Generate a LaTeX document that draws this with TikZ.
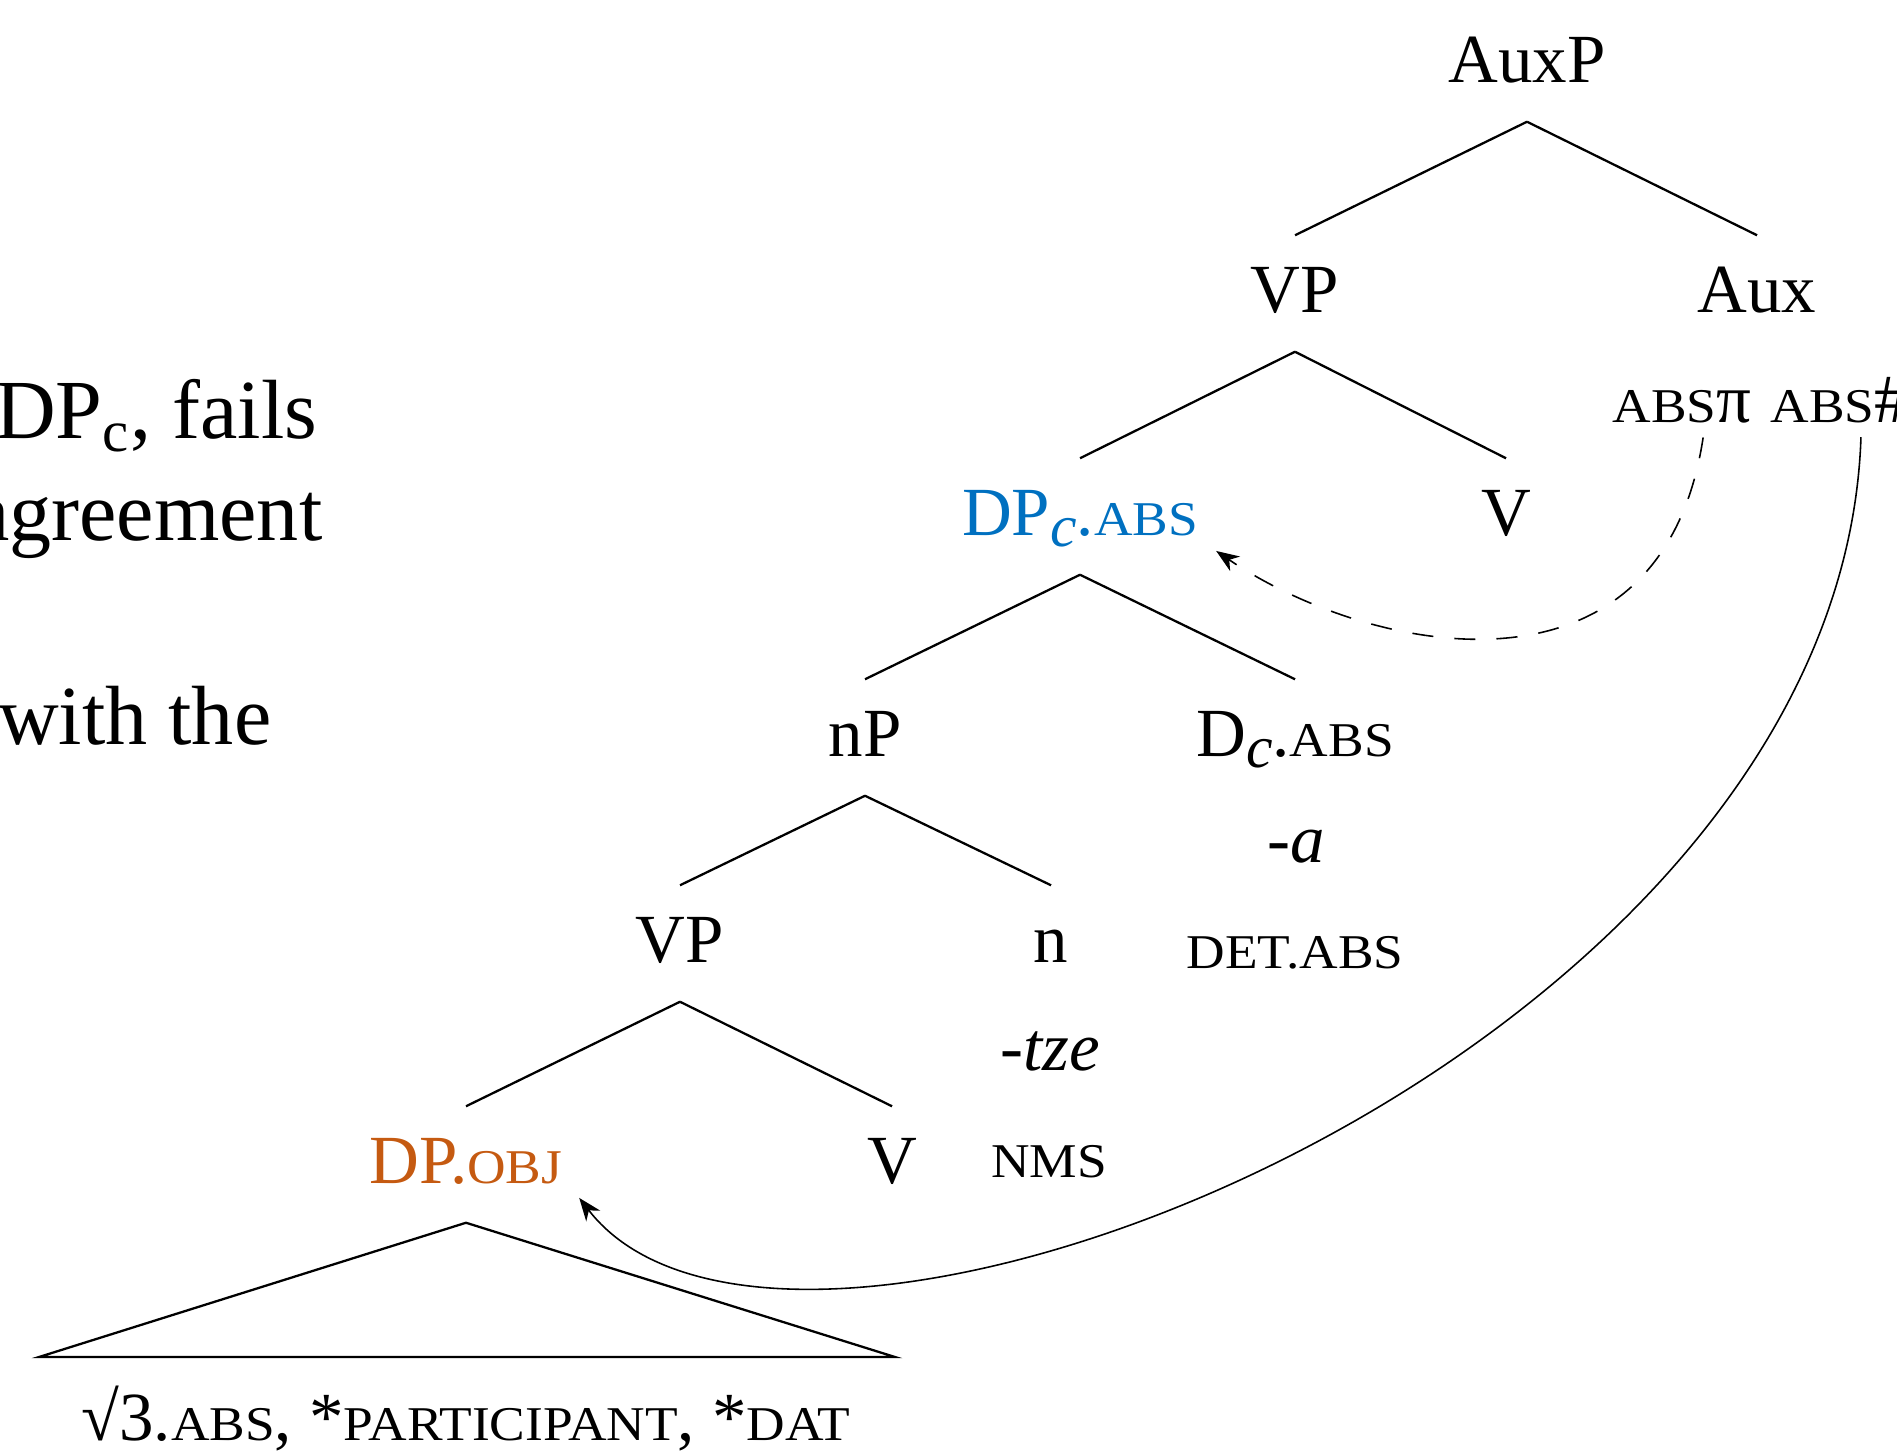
\documentclass[tikz,border=0pt]{standalone}
\usepackage{fontspec}
\setmainfont{Liberation Serif}
\newfontfamily\smcfont[FakeStretch=1.1]{Liberation Serif}
\usetikzlibrary{arrows.meta}
\definecolor{dpblue}{RGB}{0,112,192}
\definecolor{dporange}{RGB}{197,90,17}
\newcommand{\fsc}[1]{{\smcfont\fontsize{13.8}{16}\selectfont #1}}
\newcommand{\subc}{\raisebox{-3.4pt}{\fontsize{17}{18}\selectfont\itshape c}}
\tikzstyle{lbl}=[anchor=base, inner xsep=2pt, inner ysep=0.29cm, text height=0.47cm, text depth=0.1cm, font=\fontsize{19.6}{23}\selectfont]
\tikzstyle{gloss}=[anchor=base, inner sep=0pt, font=\fontsize{19.6}{23}\selectfont]
\tikzstyle{slide}=[anchor=base east, inner sep=0pt, font=\fontsize{23.9}{28}\selectfont]
\tikzstyle{branch}=[line width=0.65pt]
\tikzstyle{agree}=[line width=0.45pt, -{Stealth[length=6.5pt,width=5pt,inset=2pt]}]

\begin{document}
\begin{tikzpicture}[x=0.01cm, y=-0.01cm]
    \useasboundingbox (0,0) rectangle (1897,1454);
    \clip (0,0) rectangle (1897,1454);

    % slide text, cut off at the left edge
    \node[slide] (line1) at (318,438) {DP\textsubscript{c}, fails};
    \node[slide] (line2) at (323,540) {agreement};
    \node[slide] (line3) at (272,744) {with the};

    % tree
    \node[lbl] (auxp) at (1527,82) {AuxP};
    \node[lbl] (vp1) at (1295,312) {VP};
    \node[lbl] (aux) at (1757,312) {Aux};
    \node[lbl, text=dpblue] (dpc) at (1080,535) {DP\subc.\fsc{ABS}};
    \node[lbl] (v1) at (1506,535) {V};
    \node[lbl] (np) at (865,756) {nP};
    \node[lbl] (dcabs) at (1295,756) {D\subc.\fsc{ABS}};
    \node[lbl] (vp2) at (680,962) {VP};
    \node[lbl] (n) at (1051,962) {n};
    \node[lbl, text=dporange] (dpobj) at (466,1183) {DP.\fsc{OBJ}};
    \node[lbl] (v2) at (892,1183) {V};

    \draw[branch] (auxp.south) -- (vp1.north);
    \draw[branch] (auxp.south) -- (aux.north);
    \draw[branch] (vp1.south) -- (dpc.north);
    \draw[branch] (vp1.south) -- (v1.north);
    \draw[branch] (dpc.south) -- (np.north);
    \draw[branch] (dpc.south) -- (dcabs.north);
    \draw[branch] (np.south) -- (vp2.north);
    \draw[branch] (np.south) -- (n.north);
    \draw[branch] (vp2.south) -- (dpobj.north);
    \draw[branch] (vp2.south) -- (v2.north);

    \coordinate (tril) at (39,1357);
    \coordinate (trir) at (895,1357);
    \draw[branch] (dpobj.south) -- (tril) -- (trir) -- cycle;
    \node[gloss] (feats) at (466,1440) {√3.\fsc{ABS}, *\fsc{PARTICIPANT}, *\fsc{DAT}};

    % exponents and features
    \node[gloss] (suffa) at (1296,862) {\itshape -a};
    \node[gloss] (detabs) at (1295,968) {\fsc{DET.ABS}};
    \node[gloss] (sufftze) at (1050,1070) {\itshape -tze};
    \node[gloss] (nms) at (1049,1177) {\fsc{NMS}};
    \node[gloss, anchor=base west] (abspi) at (1612,422) {\fsc{ABS}π};
    \node[gloss, anchor=base west] (absnum) at (1770,422) {\fsc{ABS}\#};

    % agreement probes
    \draw[agree, dash pattern=on 6pt off 6pt] ([shift={(6pt,-4pt)}]abspi.south) .. controls (1661,716) and (1368,654) .. ([shift={(3pt,-9.8pt)}]dpc.east);
    \draw[agree] ([shift={(6pt,-4pt)}]absnum.south) .. controls (1840,1060) and (790,1470) .. ([shift={(2.6pt,-9.5pt)}]dpobj.east);

\end{tikzpicture}
\end{document}
